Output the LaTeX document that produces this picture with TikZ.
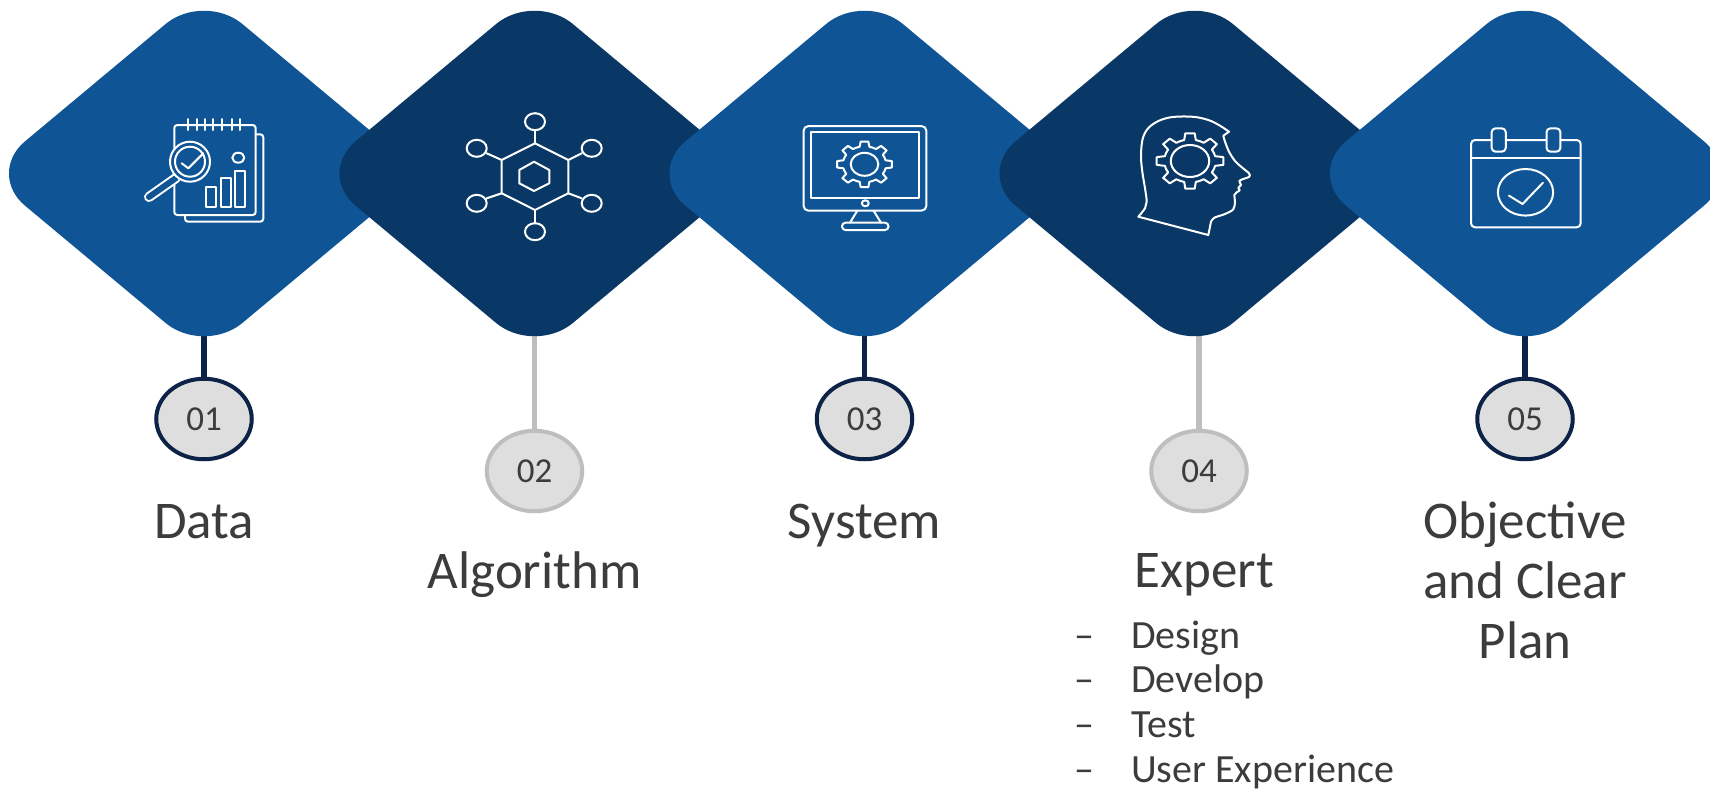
\documentclass[tikz,border=0pt]{standalone}
\usepackage{fontspec}
\setmainfont{Carlito}
\usetikzlibrary{shapes.geometric}
\definecolor{bluemid}{HTML}{0F5596}
\definecolor{bluedark}{HTML}{0A3866}
\definecolor{navyline}{HTML}{0C2347}
\definecolor{grayline}{HTML}{BEBEBE}
\definecolor{numfill}{HTML}{DEDEDE}
\definecolor{txt}{HTML}{3C3C3C}
\pgfdeclarelayer{bg}\pgfdeclarelayer{conn}\pgfsetlayers{bg,conn,main}
\tikzset{
 dia/.style={diamond, minimum width=435pt, minimum height=363pt, inner sep=0pt, outer sep=0pt, rounded corners=50pt, draw=none},
 numdark/.style={ellipse, minimum width=95.5pt, minimum height=80.5pt, inner sep=0pt, fill=numfill, draw=navyline, line width=4pt, text=txt, font=\fontsize{35}{35}\selectfont},
 numgray/.style={numdark, draw=grayline},
 conndark/.style={draw=navyline, line width=5.5pt},
 conngray/.style={draw=grayline, line width=5.5pt},
 lbl/.style={anchor=base, text=txt, inner sep=0pt, font=\fontsize{53}{60}\selectfont},
 icon/.style={draw=white, line width=2pt, line join=round, line cap=round},
}
\newcommand{\mygear}[4]{%
 \begin{scope}[shift={#1}, xscale=1.2]
  \draw[icon] (-13:#2) \foreach \a in {0,45,...,315}{ -- (\a-13:#2) -- (\a-8:#3) -- (\a+8:#3) -- (\a+13:#2) arc[start angle=\a+13, end angle=\a+32, radius=#2] } -- cycle;
  \draw[icon] (0,0) circle[radius=#4];
 \end{scope}}
\begin{document}
\begin{tikzpicture}[x=1pt,y=-1pt]
\begin{pgfonlayer}{bg}\fill[white] (0,0) rectangle (1710,790);\end{pgfonlayer}
\path[use as bounding box] (0,0) rectangle (1710,790);
\clip (0,0) rectangle (1710,790);
% diamonds
\node[dia, fill=bluemid]  (d1) at (204,173.5) {};
\node[dia, fill=bluedark] (d2) at (534.5,173.5) {};
\node[dia, fill=bluemid]  (d3) at (864.5,173.5) {};
\node[dia, fill=bluedark] (d4) at (1194.5,173.5) {};
\node[dia, fill=bluemid]  (d5) at (1525,173.5) {};
% number badges
\node[numdark] (n1) at (204,419) {01};
\node[numgray] (n2) at (534.5,471) {02};
\node[numdark] (n3) at (864.5,419) {03};
\node[numgray] (n4) at (1199,471) {04};
\node[numdark] (n5) at (1525,419) {05};
% connectors
\begin{pgfonlayer}{conn}
\draw[conndark] (d1.center) -- (n1.center);
\draw[conngray] (d2.center) -- (n2.center);
\draw[conndark] (d3.center) -- (n3.center);
\draw[conngray] (d4.center -| n4.center) -- (n4.center);
\draw[conndark] (d5.center) -- (n5.center);
\end{pgfonlayer}
% labels
\node[lbl] (l1) at (204,538) {Data};
\node[lbl] (l2) at (534.5,588) {Algorithm};
\node[lbl] (l3) at (864.5,538) {System};
\node[lbl] (l4) at (1204.5,587) {Expert};
\node[lbl] (l5) at (1525,538) {\begin{tabular}[t]{@{}c@{}}Objective\\and Clear\\Plan\end{tabular}};
\node[anchor=base west, text=txt, inner sep=0pt, font=\fontsize{40}{44.7}\selectfont] (l4b) at (1074,648)
 {\begin{tabular}[t]{@{}l@{}}\makebox[57pt][l]{–}Design\\\makebox[57pt][l]{–}Develop\\\makebox[57pt][l]{–}Test\\\makebox[57pt][l]{–}User Experience\end{tabular}};
% icon 1: data report
\draw[icon, rounded corners=3pt] (255.7,134.3) -- (263.3,134.3) -- (263.3,221.7) -- (185,221.7) -- (185,215);
\draw[icon, rounded corners=3pt] (174.3,125) rectangle (255.7,215);
\foreach \x in {188.3,196.7,205,213.3,222.3,231.7,240} \draw[icon] (\x,119) -- (\x,130);
\draw[icon] (206,186.7) rectangle (215.7,206.7);
\draw[icon] (220.7,178.3) rectangle (231,206.7);
\draw[icon] (235,171) rectangle (245,206.7);
\draw[icon] (238.3,157.7) ellipse[x radius=6pt, y radius=5pt];
\draw[white, line width=10pt, line cap=round] (176,178) -- (149,197);
\draw[bluemid, line width=6pt, line cap=round] (176,178) -- (149,197);
\filldraw[icon, fill=bluemid] (190,161.7) circle[radius=20pt];
\draw[icon] (190,161.7) circle[radius=15pt];
\draw[icon] (181.7,163.3) -- (188.3,168.3) -- (203.3,153.3);
% icon 2: hexagon network
\draw[icon] (535,143.3) -- (568.3,160) -- (568.3,193.3) -- (535,210) -- (501.7,193.3) -- (501.7,160) -- cycle;
\draw[icon] (534,161.7) -- (549.3,170) -- (549.3,183.3) -- (534,191) -- (519.3,183.3) -- (519.3,170) -- cycle;
\foreach \p in {(535,121.7),(476.7,148.3),(591.7,148.3),(476.7,203.3),(591.7,203.3),(535,231.7)}
  \draw[icon] \p ellipse[x radius=10pt, y radius=8.5pt];
\draw[icon] (535,130.2) -- (535,143.3);
\draw[icon] (535,210) -- (535,223.2);
\draw[icon] (486.7,153.3) -- (501.7,160);
\draw[icon] (581.7,153.3) -- (568.3,160);
\draw[icon] (486.7,198.3) -- (501.7,193.3);
\draw[icon] (581.7,198.3) -- (568.3,193.3);
% icon 3: monitor with gear
\draw[icon, rounded corners=5pt] (803.5,126) rectangle (926.4,210.7);
\draw[icon] (810.7,132.3) rectangle (919,197.7);
\draw[icon] (865.3,203.3) ellipse[x radius=3.5pt, y radius=3pt];
\draw[icon] (857.3,210.7) -- (850,222.7);
\draw[icon] (873.6,210.7) -- (881,222.7);
\draw[icon, rounded corners=3.5pt] (842,222.7) rectangle (888.5,230);
\mygear{(864.5,164.3)}{18}{23}{11.5}
% icon 4: head with gear
\draw[icon] plot[smooth, tension=0.6] coordinates {(1138.3,216.7) (1145,208.3) (1146.7,201.7) (1145,188.3) (1142.3,171.7) (1141,155) (1143.3,136.7) (1151.7,125) (1168.3,117.7) (1191.7,116.7) (1208.3,120) (1220,125.7) (1229,131.7)}
  -- plot[smooth, tension=0.5] coordinates {(1223.3,135.7) (1225,141.7) (1229,151.7) (1235,161) (1242.3,167.7) (1249,173.3) (1249.3,176.7) (1243.3,179) (1239.3,181) (1241,185) (1238.3,187.7) (1239.7,190.3) (1236.7,192.3) (1234.3,195) (1235,201.7) (1233.3,209.3) (1225,214) (1214.3,217.7) (1211,221.7)}
  -- (1208.3,235) -- cycle;
\mygear{(1190,161)}{21.5}{28}{16}
% icon 5: calendar with check
\draw[icon, rounded corners=4pt] (1471,140) rectangle (1580.7,227.3);
\draw[icon] (1471,158.3) -- (1580.7,158.3);
\filldraw[icon, fill=bluemid, rounded corners=4pt] (1491.6,128.3) rectangle (1505.8,151.7);
\filldraw[icon, fill=bluemid, rounded corners=4pt] (1546.5,128.3) rectangle (1560.4,151.7);
\draw[icon] (1525.5,192.3) ellipse[x radius=27.6pt, y radius=23.3pt];
\draw[icon] (1509,195.7) -- (1522.5,204) -- (1543,182.7);
\end{tikzpicture}
\end{document}
